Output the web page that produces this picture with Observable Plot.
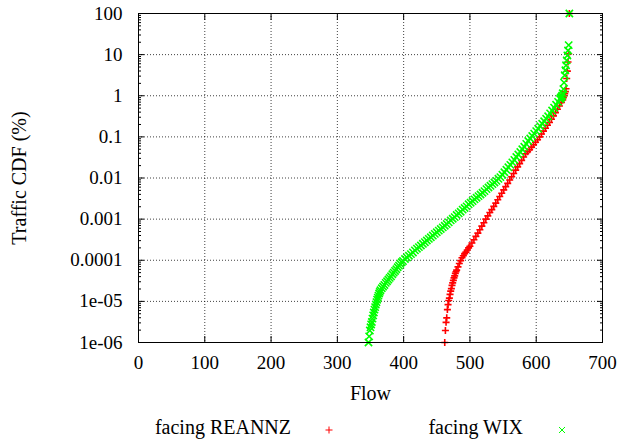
<!DOCTYPE html>
<html>
<head>
<meta charset="utf-8">
<script src="https://cdn.jsdelivr.net/npm/d3@7"></script>
<script src="https://cdn.jsdelivr.net/npm/@observablehq/plot@0.6"></script>
<style>
  html, body { margin: 0; padding: 0; background: #fff; }
  #wrap { position: relative; width: 618px; height: 440px; overflow: hidden; font-family: "Liberation Serif", "Times New Roman", Tinos, "DejaVu Serif", serif; }
  #chart svg { display: block; }
  .leg { position: absolute; top: 416px; font-size: 20px; line-height: 22px; color: #000; white-space: nowrap; }
  .legmark { position: absolute; top: 424px; }
</style>
</head>
<body>
<div id="wrap">
  <div id="chart"></div>
  <div class="leg" id="leg1" style="right: 327px;"></div>
  <svg class="legmark" style="left: 324px;" width="10" height="12"><line x1="5" y1="2.5" x2="5" y2="9.5" stroke="#ff0000"/><line x1="1.5" y1="6" x2="8.5" y2="6" stroke="#ff0000"/></svg>
  <div class="leg" id="leg2" style="right: 95px;"></div>
  <svg class="legmark" style="left: 557px;" width="10" height="12"><line x1="2" y1="3" x2="8" y2="9" stroke="#00ff00"/><line x1="2" y1="9" x2="8" y2="3" stroke="#00ff00"/></svg>
</div>
<script>
// ---- data ----
const seriesNames = ["facing REANNZ", "facing WIX"];

const reannzFlow = [462,463,464,465,466,467,468,469,470,471,472,473,474,475,476,477,478,479,480,
  482,484,486,488,490,492,494,496,498,500,
  503,506,509,512,515,518,521,524,527,530,533,536,539,542,545,548,551,554,557,560,563,566,569,572,575,578,581,584,
  587,590,593,596,599,602,605,608,611,614,617,620,623,626,629,632,635,638,
  640,641,642,643,644,645,646,647,648,649,650];
const reannzCdf = [1.0e-6,1.95e-6,3.09e-6,3.98e-6,6.31e-6,8.32e-6,1.05e-5,1.20e-5,1.48e-5,1.78e-5,2.04e-5,2.45e-5,2.82e-5,3.24e-5,3.72e-5,4.17e-5,4.79e-5,5.25e-5,5.75e-5,
  6.92e-5,8.32e-5,9.77e-5,1.15e-4,1.29e-4,1.45e-4,1.58e-4,1.78e-4,2.00e-4,2.19e-4,
  2.63e-4,3.16e-4,3.80e-4,4.57e-4,5.50e-4,6.76e-4,8.13e-4,1.00e-3,1.20e-3,1.45e-3,1.70e-3,2.04e-3,2.45e-3,2.95e-3,3.55e-3,4.27e-3,5.13e-3,6.17e-3,7.41e-3,8.91e-3,1.07e-2,1.29e-2,1.55e-2,1.86e-2,2.24e-2,2.69e-2,3.24e-2,3.89e-2,
  4.37e-2,4.90e-2,5.62e-2,6.46e-2,7.41e-2,8.51e-2,0.100,0.117,0.138,0.162,0.191,0.224,0.269,0.324,0.389,0.468,0.562,0.692,
  0.794,0.891,1.00,1.12,1.26,1.48,2.63,3.98,6.61,10.5,100];

const wixFlow = [347,348,349,350,351,352,353,354,355,356,357,358,359,360,361,362,363,364,365,
  367,369,371,373,375,377,379,381,383,385,387,389,391,393,395,397,399,
  402,405,408,411,414,417,420,423,426,429,432,435,438,441,444,447,450,453,456,459,462,465,468,471,474,477,480,483,486,489,492,495,498,
  501,504,507,510,513,516,519,522,525,528,531,534,537,540,543,546,549,552,555,558,561,564,567,570,573,576,579,582,585,588,591,594,597,
  600,603,606,609,612,615,618,621,624,627,630,633,636,
  637,638,639,640,641,642,643,644,645,646,647,648,649,650];
const wixCdf = [1.0e-6,1.41e-6,1.95e-6,2.34e-6,2.75e-6,3.16e-6,3.80e-6,4.57e-6,5.37e-6,6.31e-6,7.24e-6,8.32e-6,9.55e-6,1.10e-5,1.23e-5,1.38e-5,1.55e-5,1.70e-5,1.86e-5,
  2.09e-5,2.29e-5,2.51e-5,2.82e-5,3.09e-5,3.39e-5,3.72e-5,4.07e-5,4.57e-5,5.01e-5,5.50e-5,6.03e-5,6.76e-5,7.41e-5,8.13e-5,8.91e-5,9.55e-5,
  1.07e-4,1.17e-4,1.29e-4,1.41e-4,1.55e-4,1.74e-4,1.91e-4,2.09e-4,2.29e-4,2.51e-4,2.75e-4,3.02e-4,3.31e-4,3.63e-4,3.98e-4,4.37e-4,4.79e-4,5.25e-4,5.75e-4,6.31e-4,6.92e-4,7.59e-4,8.32e-4,9.33e-4,1.02e-3,1.12e-3,1.26e-3,1.38e-3,1.51e-3,1.70e-3,1.86e-3,2.04e-3,2.29e-3,
  2.51e-3,2.75e-3,3.02e-3,3.31e-3,3.63e-3,3.98e-3,4.37e-3,4.79e-3,5.37e-3,5.89e-3,6.46e-3,7.08e-3,7.76e-3,8.51e-3,9.55e-3,1.05e-2,1.20e-2,1.38e-2,1.58e-2,1.82e-2,2.09e-2,2.40e-2,2.75e-2,3.24e-2,3.72e-2,4.27e-2,5.01e-2,5.75e-2,6.76e-2,7.94e-2,9.12e-2,0.105,0.120,
  0.138,0.158,0.182,0.209,0.240,0.275,0.316,0.372,0.437,0.513,0.603,0.708,0.832,
  0.891,0.933,1.00,1.15,1.45,2.09,3.16,4.17,5.50,7.24,9.55,12.6,17.0,100];

const xTickValues = [0,100,200,300,400,500,600,700];
const yTickValues = [1e-6,1e-5,1e-4,1e-3,1e-2,1e-1,1,10,100];
const yTickLabels = ["1e-06","1e-05","0.0001","0.001","0.01","0.1","1","10","100"];

// ---- build ----
const reannz = reannzFlow.map((f, i) => ({flow: f, cdf: reannzCdf[i]}));
const wix = wixFlow.map((f, i) => ({flow: f, cdf: wixCdf[i]}));
const yMinor = [];
for (let d = 0; d < yTickValues.length - 1; d++) for (let m = 2; m <= 9; m++) yMinor.push(yTickValues[d] * m);

document.getElementById("leg1").textContent = seriesNames[0];
document.getElementById("leg2").textContent = seriesNames[1];

const serif = "'Liberation Serif', 'Times New Roman', Tinos, 'DejaVu Serif', serif";
const blank = () => "";
const chart = Plot.plot({
  width: 618,
  height: 405,
  marginLeft: 138,
  marginRight: 16,
  marginTop: 13,
  marginBottom: 63,
  style: {fontFamily: serif, fontSize: "19px", color: "#000", background: "#fff"},
  x: {type: "linear", domain: [0, 700]},
  y: {type: "log", domain: [1e-6, 100]},
  marks: [
    Plot.gridX(xTickValues, {stroke: "#000", strokeOpacity: 0.75, strokeDasharray: "1,2"}),
    Plot.gridY(yTickValues, {stroke: "#000", strokeOpacity: 0.75, strokeDasharray: "1,2"}),
    Plot.axisX({ticks: xTickValues, tickSize: 0, tickPadding: 13, tickFormat: d => String(d), fontSize: 19, label: null}),
    Plot.axisX({ticks: [], label: "Flow", labelAnchor: "center", labelOffset: 57, labelArrow: "none", fontSize: 20}),
    Plot.axisX({ticks: xTickValues, anchor: "bottom", tickSize: -6, tickFormat: blank, label: null}),
    Plot.axisX({ticks: xTickValues, anchor: "top", tickSize: -6, tickFormat: blank, label: null}),
    Plot.axisY({ticks: yTickValues, tickSize: 0, tickPadding: 16, tickFormat: d => yTickLabels[yTickValues.indexOf(d)], fontSize: 19, label: null}),
    Plot.axisY({ticks: [], label: "Traffic CDF (%)", labelAnchor: "center", labelOffset: 127, labelArrow: "none", fontSize: 20}),
    Plot.axisY({ticks: yTickValues, anchor: "left", tickSize: -6, tickFormat: blank, label: null}),
    Plot.axisY({ticks: yTickValues, anchor: "right", tickSize: -6, tickFormat: blank, label: null}),
    Plot.axisY({ticks: yMinor, anchor: "left", tickSize: -3, tickFormat: blank, label: null}),
    Plot.axisY({ticks: yMinor, anchor: "right", tickSize: -3, tickFormat: blank, label: null}),
    Plot.dot(reannz, {x: "flow", y: "cdf", symbol: "plus", r: 2.4, stroke: "#ff0000", strokeWidth: 1.6}),
    Plot.dot(wix, {x: "flow", y: "cdf", symbol: "times", r: 3.4, stroke: "#00ff00", strokeWidth: 1.6}),
    Plot.frame({stroke: "#000", strokeWidth: 1})
  ]
});
document.getElementById("chart").appendChild(chart);
</script>
</body>
</html>
